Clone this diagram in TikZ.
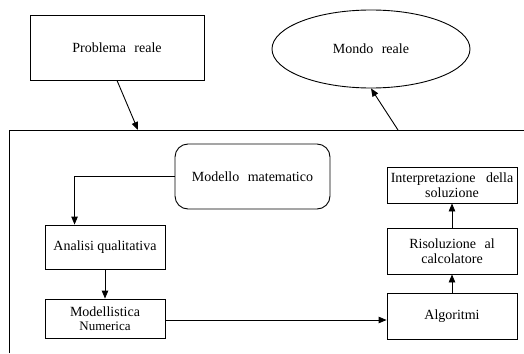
\documentclass[tikz,border=0pt]{standalone}
\usepackage{fontspec}
\setmainfont{Liberation Serif}
\usetikzlibrary{arrows.meta,shapes.geometric}
\newcommand\wsp{\hspace{0.6em}}
\tikzset{
  box/.style={draw, line width=0.9pt, rectangle, inner sep=0pt, align=center,
    font=\fontsize{14}{15.5}\selectfont},
  rbox/.style={box, rounded corners=13pt},
  oval/.style={draw, line width=0.9pt, ellipse, inner sep=0pt, align=center,
    font=\fontsize{14}{15.5}\selectfont},
  conn/.style={line width=0.9pt},
  arr/.style={conn, -{Triangle[length=8pt,width=6.5pt]}},
  frame/.style={line width=0.9pt}
}
\begin{document}
\begin{tikzpicture}[x=1pt,y=-1pt]
\useasboundingbox (0,0) rectangle (524,353);
\node[box, minimum width=174pt, minimum height=65pt] (prob) at (117,47.5) {Problema\wsp reale};
\node[oval, minimum width=198pt, minimum height=78pt] (mondo) at (371,49) {Mondo\wsp reale};
\draw[frame] (9,353) -- (9,130) -- (524,130);
\coordinate (in) at (138,130);
\coordinate (out) at (398,130);
\draw[arr] (prob.south) -- (in);
\draw[arr] (out) -- (mondo.south);
\node[rbox, minimum width=155pt, minimum height=65pt] (modello) at (252.5,176.5) {Modello\wsp matematico};
\node[box, minimum width=120pt, minimum height=44pt] (analisi) at (105,247) {Analisi qualitativa};
\node[box, minimum width=120pt, minimum height=39pt] (modnum) at (105,318.5) {Modellistica\\[-1pt]{\fontsize{13}{14}\selectfont Numerica}};
\node[box, minimum width=130pt, minimum height=46pt] (algo) at (452,316) {Algoritmi};
\node[box, minimum width=130pt, minimum height=46pt] (riso) at (452,251) {Risoluzione\wsp al\\calcolatore};
\node[box, minimum width=130pt, minimum height=36pt] (interp) at (452,185) {Interpretazione\hspace{0.75em}della\\soluzione};
\draw[arr] (modello.west) -| ([xshift=30pt]analisi.north west);
\draw[arr] (analisi.south) -- (analisi.south |- modnum.north);
\draw[arr] ([yshift=-1.5pt]modnum.east) -- ([yshift=-1.5pt]modnum.east -| algo.west);
\draw[arr] (algo.north) -- (riso.south);
\draw[arr] (riso.north) -- (interp.south);
\end{tikzpicture}
\end{document}
